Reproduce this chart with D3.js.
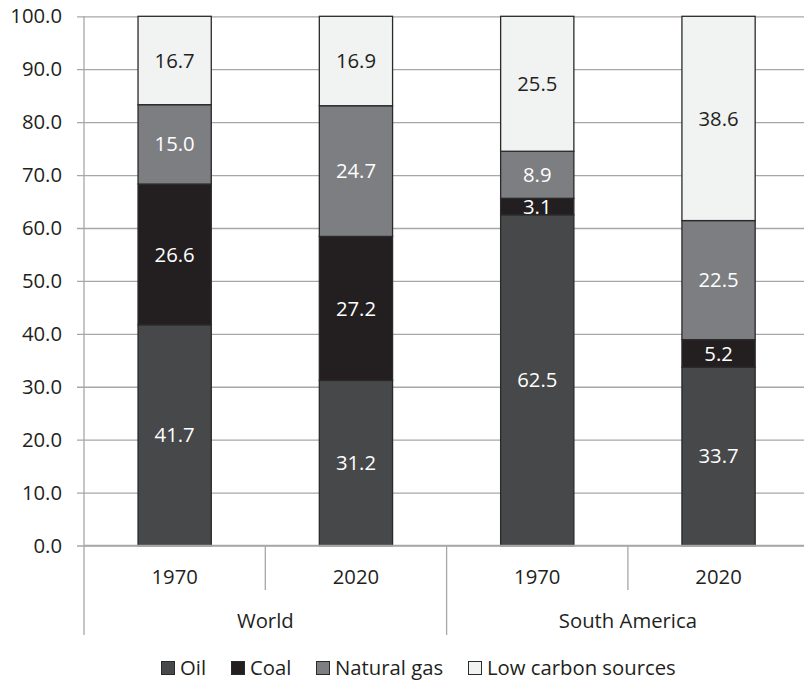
<!DOCTYPE html>
<html>
<head>
<meta charset="utf-8">
<script src="https://cdn.jsdelivr.net/npm/d3@7"></script>
<style>
  html, body { margin: 0; padding: 0; background: #ffffff; }
  svg { display: block; font-family: "Open Sans", "Noto Sans", sans-serif; }
</style>
</head>
<body>
<svg id="chart" width="804" height="682"></svg>
<script>
// Energy mix shares (%) by region and year
const regions = ["World", "South America"];
const years = ["1970", "2020"];
const sources = ["Oil", "Coal", "Natural gas", "Low carbon sources"];
const oil = [41.7, 31.2, 62.5, 33.7];
const coal = [26.6, 27.2, 3.1, 5.2];
const gas = [15.0, 24.7, 8.9, 22.5];
const lowCarbon = [16.7, 16.9, 25.5, 38.6];
const yTicks = [0, 10, 20, 30, 40, 50, 60, 70, 80, 90, 100];

const fills = ["#46484a", "#231f20", "#7d7e81", "#f1f2f2"];
const labelColors = ["#ffffff", "#ffffff", "#ffffff", "#231f20"];

const bars = [];
regions.forEach(r => years.forEach(yr => bars.push({ key: r + "|" + yr, region: r, year: yr })));
const table = bars.map((b, i) => ({
  key: b.key, region: b.region, year: b.year,
  "Oil": oil[i], "Coal": coal[i], "Natural gas": gas[i], "Low carbon sources": lowCarbon[i]
}));

const svg = d3.select("#chart");
const plotLeft = 84, plotTop = 16.3, plotH = 529.2, step = 181.3;
const plotW = step * bars.length;
const axisGrey = "#a7a7a7";

const x = d3.scaleBand().domain(bars.map(b => b.key)).range([plotLeft, plotLeft + plotW])
  .paddingInner(0.596).paddingOuter(0.298);
const y = d3.scaleLinear().domain([0, 100]).range([plotTop + plotH, plotTop]);

const fontSize = 20.3;

// Horizontal gridlines and y-axis labels
const yAxis = d3.axisLeft(y).tickValues(yTicks).tickFormat(d3.format(".1f"))
  .tickSize(-plotW - 7);
const gy = svg.append("g").attr("transform", `translate(${plotLeft - 7},0)`).call(yAxis);
gy.select(".domain").remove();
gy.selectAll(".tick line").attr("stroke", axisGrey).attr("stroke-width", 1.3);
gy.selectAll(".tick text").attr("x", -15).attr("fill", "#231f20")
  .attr("font-size", fontSize).style("font-family", "'Open Sans', sans-serif");

// Vertical axis line
svg.append("line").attr("x1", plotLeft).attr("x2", plotLeft)
  .attr("y1", plotTop).attr("y2", 635).attr("stroke", axisGrey).attr("stroke-width", 1.3);

// Stacked bars
const stack = d3.stack().keys(sources);
const series = stack(table);
const layer = svg.append("g").selectAll("g").data(series).join("g")
  .attr("fill", (d, i) => fills[i]);
layer.selectAll("rect").data(d => d).join("rect")
  .attr("x", d => x(d.data.key))
  .attr("width", x.bandwidth())
  .attr("y", d => y(d[1]))
  .attr("height", d => y(d[0]) - y(d[1]))
  .attr("stroke", "#2a2a2a").attr("stroke-width", 1.3);

// Value labels
series.forEach((s, si) => {
  svg.append("g").selectAll("text").data(s).join("text")
    .attr("x", d => x(d.data.key) + x.bandwidth() / 2)
    .attr("y", d => y((d[0] + d[1]) / 2))
    .attr("dy", "0.35em")
    .attr("text-anchor", "middle")
    .attr("font-size", fontSize)
    .attr("fill", labelColors[si])
    .text(d => d3.format(".1f")(d.data[s.key]));
});

// Category axis: years, separators and region groups
const base = y(0);
svg.append("line").attr("x1", plotLeft).attr("x2", plotLeft + plotW)
  .attr("y1", base).attr("y2", base).attr("stroke", axisGrey).attr("stroke-width", 1.3);

svg.append("g").selectAll("text").data(bars).join("text")
  .attr("x", d => x(d.key) + x.bandwidth() / 2)
  .attr("y", 577).attr("dy", "0.35em").attr("text-anchor", "middle")
  .attr("font-size", fontSize).attr("fill", "#231f20")
  .text(d => d.year);

regions.forEach((r, i) => {
  // short separator between the two years of a region
  const xs = plotLeft + step * (2 * i + 1);
  svg.append("line").attr("x1", xs).attr("x2", xs).attr("y1", base).attr("y2", 590)
    .attr("stroke", axisGrey).attr("stroke-width", 1.3);
  // long separator after the region
  const xe = plotLeft + step * (2 * i + 2);
  svg.append("line").attr("x1", xe).attr("x2", xe).attr("y1", base).attr("y2", 635)
    .attr("stroke", axisGrey).attr("stroke-width", 1.3);
  svg.append("text").attr("x", xs).attr("y", 621).attr("dy", "0.35em")
    .attr("text-anchor", "middle").attr("font-size", fontSize).attr("fill", "#231f20")
    .text(r);
});

// Legend
const legendX = [161, 231, 316, 468];
const lg = svg.append("g").selectAll("g").data(sources).join("g")
  .attr("transform", (d, i) => `translate(${legendX[i]},668)`);
lg.append("rect").attr("x", 0.5).attr("y", -6.5).attr("width", 13).attr("height", 13)
  .attr("fill", (d, i) => fills[i]).attr("stroke", "#2a2a2a").attr("stroke-width", 1);
lg.append("text").attr("x", 19).attr("dy", "0.35em")
  .attr("font-size", fontSize).attr("fill", "#231f20").text(d => d);
</script>
</body>
</html>
